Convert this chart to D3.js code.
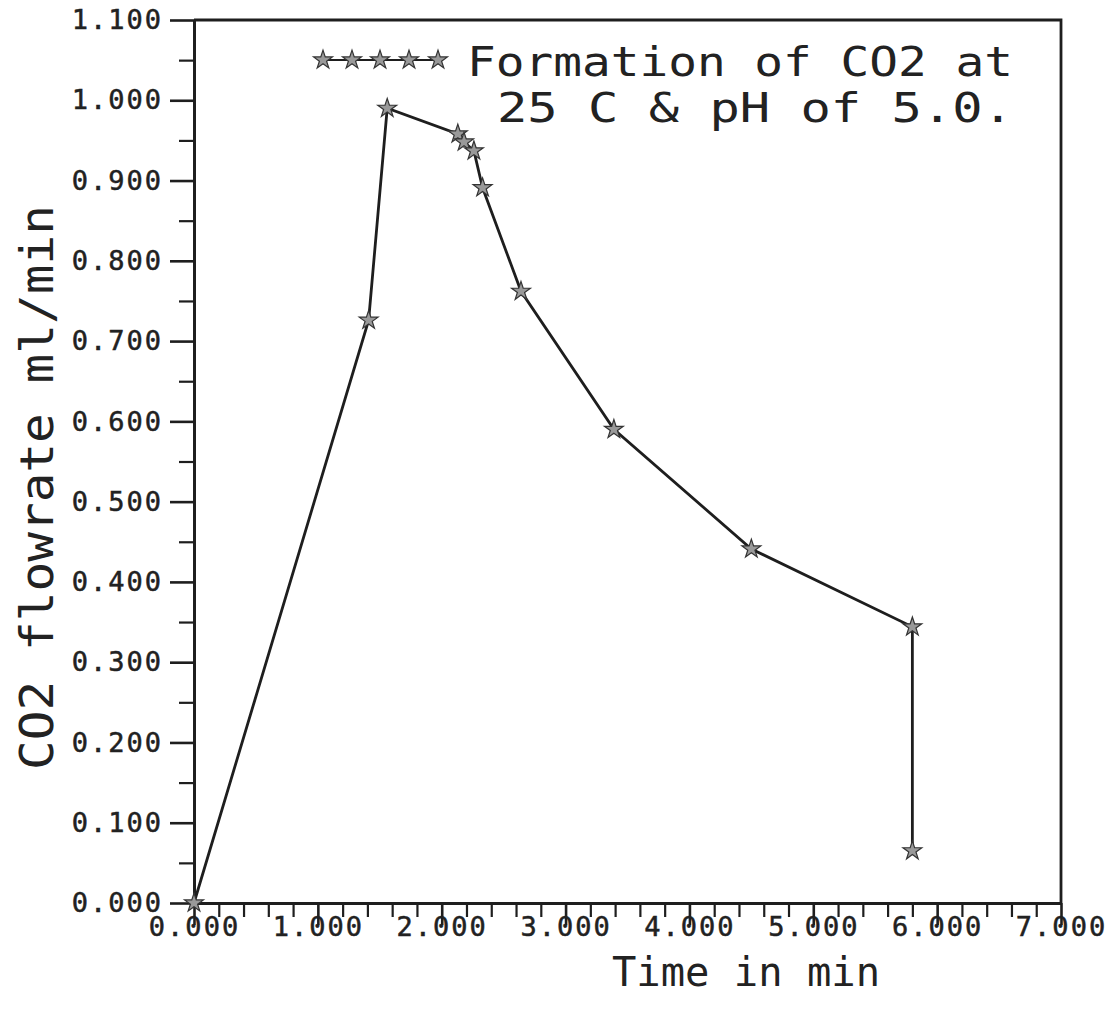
<!DOCTYPE html>
<html>
<head>
<meta charset="utf-8">
<script src="https://cdn.jsdelivr.net/npm/d3@7"></script>
<style>
  body { margin: 0; background: #fff; }
  svg { display: block; }
  text { font-family: "DejaVu Sans Mono", "Liberation Mono", monospace; fill: #222; }
</style>
</head>
<body>
<svg id="chart" width="1111" height="1012"></svg>
<script>
// values
const timeMin = [0, 1.41, 1.56, 2.13, 2.18, 2.26, 2.33, 2.64, 3.39, 4.50, 5.80, 5.80];
const co2Flow = [0, 0.726, 0.990, 0.958, 0.948, 0.937, 0.891, 0.762, 0.590, 0.441, 0.344, 0.065];

const xMajor = [0, 1, 2, 3, 4, 5, 6, 7];
const xMinor = [0.2, 0.4, 0.6, 0.8, 1.2, 1.4, 1.6, 1.8, 2.2, 2.4, 2.6, 2.8, 3.2, 3.4, 3.6, 3.8,
                4.2, 4.4, 4.6, 4.8, 5.2, 5.4, 5.6, 5.8, 6.2, 6.4, 6.6, 6.8];
const yMajor = [0, 0.1, 0.2, 0.3, 0.4, 0.5, 0.6, 0.7, 0.8, 0.9, 1.0, 1.1];
const yMinor = [0.05, 0.15, 0.25, 0.35, 0.45, 0.55, 0.65, 0.75, 0.85, 0.95, 1.05];

const legendLines = ["Formation of CO2 at", "25 C & pH of 5.0."];
const xTitle = "Time in min";
const yTitle = "CO2 flowrate ml/min";

const svg = d3.select("#chart");
const ink = "#1e1e1e";

const x = d3.scaleLinear().domain([0, 7]).range([194, 1061]);
const y = d3.scaleLinear().domain([0, 1.1]).range([903, 20]);
const fmt = d3.format(".3f");

function styleAxis(g, w) {
    g.select(".domain").attr("stroke", ink).attr("stroke-width", 2.8);
    g.selectAll(".tick line").attr("stroke", ink).attr("stroke-width", w);
    g.selectAll(".tick text")
        .style("font-family", "DejaVu Sans Mono")
        .style("font-size", "27px")
        .attr("fill", ink)
        .attr("stroke", ink).attr("stroke-width", 0.5)
        .attr("letter-spacing", "2px");
}

// x axis, minor then major
svg.append("g")
    .attr("transform", `translate(0,${y(0)})`)
    .call(d3.axisBottom(x).tickValues(xMinor).tickSize(14).tickSizeOuter(0).tickFormat(""))
    .call(g => styleAxis(g, 2.2));
const xAx = svg.append("g")
    .attr("transform", `translate(0,${y(0)})`)
    .call(d3.axisBottom(x).tickValues(xMajor).tickSize(22).tickSizeOuter(0).tickFormat(fmt))
    .call(g => styleAxis(g, 2.6));
xAx.selectAll(".tick text").attr("y", 14);

// y axis
svg.append("g")
    .attr("transform", `translate(${x(0)},0)`)
    .call(d3.axisLeft(y).tickValues(yMinor).tickSize(15).tickSizeOuter(0).tickFormat(""))
    .call(g => styleAxis(g, 2.2));
svg.append("g")
    .attr("transform", `translate(${x(0)},0)`)
    .call(d3.axisLeft(y).tickValues(yMajor).tickSize(24).tickPadding(7).tickSizeOuter(0).tickFormat(fmt))
    .call(g => styleAxis(g, 2.6));

// box top and right
svg.append("path")
    .attr("d", `M${x(0)},${y(1.1)}H${x(7)}V${y(0)}`)
    .attr("fill", "none").attr("stroke", ink).attr("stroke-width", 2.8);

// data line
const line = d3.line().x(d => x(d[0])).y(d => y(d[1]));
const pts = timeMin.map((t, i) => [t, co2Flow[i]]);
svg.append("path")
    .datum(pts)
    .attr("d", line)
    .attr("fill", "none")
    .attr("stroke", ink)
    .attr("stroke-width", 2.8);

const star = d3.symbol().type(d3.symbolStar).size(110);
svg.selectAll(".pt")
    .data(pts)
    .join("path")
    .attr("class", "pt")
    .attr("transform", d => `translate(${x(d[0])},${y(d[1])})`)
    .attr("d", star)
    .attr("fill", "#999")
    .attr("stroke", "#333")
    .attr("stroke-width", 1.2);

// legend
const legX = [323, 352, 380, 409, 438];
svg.append("line")
    .attr("x1", legX[0]).attr("x2", legX[4])
    .attr("y1", 60).attr("y2", 60)
    .attr("stroke", ink).attr("stroke-width", 2);
svg.selectAll(".leg")
    .data(legX)
    .join("path")
    .attr("class", "leg")
    .attr("transform", d => `translate(${d},60)`)
    .attr("d", star)
    .attr("fill", "#999")
    .attr("stroke", "#333")
    .attr("stroke-width", 1.2);

svg.append("text")
    .attr("x", 467).attr("y", 76)
    .attr("font-size", 40)
    .attr("textLength", 546).attr("lengthAdjust", "spacingAndGlyphs")
    .text(legendLines[0]);
svg.append("text")
    .attr("x", 497).attr("y", 122)
    .attr("font-size", 40)
    .attr("textLength", 516).attr("lengthAdjust", "spacingAndGlyphs")
    .text(legendLines[1]);

// axis titles
svg.append("text")
    .attr("x", 612).attr("y", 986)
    .attr("font-size", 40)
    .attr("textLength", 268).attr("lengthAdjust", "spacingAndGlyphs")
    .text(xTitle);

svg.append("text")
    .attr("transform", "translate(53,770) rotate(-90)")
    .attr("font-size", 46)
    .attr("textLength", 565).attr("lengthAdjust", "spacingAndGlyphs")
    .text(yTitle);
</script>
</body>
</html>
